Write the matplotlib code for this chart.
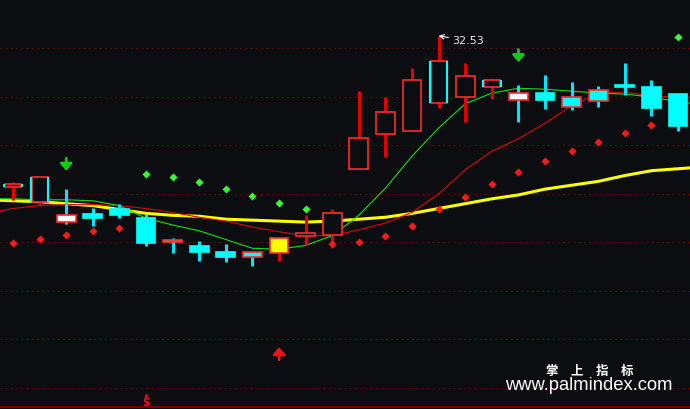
import numpy as np
import matplotlib
matplotlib.use('Agg')
import matplotlib.pyplot as plt

plt.rcParams['font.family'] = ['DejaVu Sans']

BG = '#0c0d10'

# --- candles (price) ---
opens  = [30.97, 30.82, 30.68, 30.69, 30.74, 30.65, 30.43, 30.36, 30.30, 30.30,
          30.29, 30.47, 30.48, 31.16, 31.52, 31.55, 31.84, 31.90, 32.00, 31.94,
          31.94, 31.90, 31.97, 32.02, 32.00, 31.93]
highs  = [31.02, 31.07, 30.95, 30.76, 30.80, 30.69, 30.45, 30.42, 30.38, 30.30,
          30.45, 30.68, 30.75, 31.96, 31.90, 32.20, 32.53, 32.25, 32.09, 32.02,
          32.13, 32.05, 32.01, 32.25, 32.08, 31.93]
lows   = [30.84, 30.79, 30.59, 30.57, 30.65, 30.36, 30.29, 30.21, 30.20, 30.16,
          30.21, 30.37, 30.41, 31.16, 31.28, 31.55, 31.79, 31.64, 31.88, 31.64,
          31.78, 31.77, 31.80, 31.92, 31.70, 31.55]
closes = [31.00, 31.07, 30.61, 30.65, 30.68, 30.39, 30.40, 30.30, 30.25, 30.25,
          30.45, 30.50, 30.70, 31.48, 31.75, 32.08, 32.27, 32.12, 32.08, 31.87,
          31.87, 31.80, 31.86, 32.00, 31.79, 31.60]

# moving averages, index -1 .. 26 (first and last are off-screen)
ma_long  = [30.84, 30.83, 30.82, 30.80, 30.78, 30.74, 30.70, 30.68, 30.67, 30.64,
            30.63, 30.62, 30.61, 30.62, 30.64, 30.66, 30.70, 30.75, 30.80, 30.85,
            30.89, 30.95, 30.99, 31.03, 31.09, 31.14, 31.16, 31.18]
ma_fast  = [30.85, 30.85, 30.84, 30.84, 30.83, 30.78, 30.65, 30.58, 30.52, 30.43,
            30.34, 30.33, 30.37, 30.47, 30.68, 30.96, 31.29, 31.58, 31.83, 31.94,
            31.99, 31.98, 31.96, 31.94, 31.93, 31.90, 31.85, 31.82]
ma_mid   = [30.70, 30.75, 30.78, 30.79, 30.79, 30.78, 30.75, 30.71, 30.66, 30.62,
            30.56, 30.51, 30.47, 30.47, 30.53, 30.60, 30.71, 30.90, 31.15, 31.34,
            31.47, 31.63, 31.81, 31.94, 31.95, 31.91, 31.90, 31.90]

# parabolic SAR
sar = [30.39, 30.44, 30.48, 30.52, 30.55, 31.11, 31.08, 31.02, 30.95, 30.88,
       30.81, 30.75, 30.38, 30.41, 30.47, 30.57, 30.74, 30.87, 31.00, 31.13,
       31.24, 31.34, 31.44, 31.53, 31.61, 32.52]

sell_idx = [2, 19]
sell_tip = [31.14, 32.26]
buy_idx = [10]
buy_tip = [29.32]
s_idx = 5
s_level = 28.75

grid_levels = [32.40, 31.90, 31.40, 30.90, 30.40, 29.90, 29.40, 28.90]
base_level = 28.70

red_edged = [6, 9, 21, 22]
cyan_sided = [0, 1, 16, 18]

fig = plt.figure(figsize=(6.9, 4.09), dpi=100)
fig.patch.set_facecolor(BG)
ax = fig.add_axes([0, 0, 1, 1])
ax.set_facecolor(BG)
ax.set_xlim(-0.489, 25.45)
ax.set_ylim(28.683, 32.90)
ax.axis('off')

for g in grid_levels:
    ax.axhline(g, color='#5c0a0a', lw=0.75, ls=(0, (2, 3)), zorder=1)
ax.axhline(base_level, color='#7a0000', lw=1.5, zorder=1)

xm = np.arange(-1, 27)
ax.plot(xm, ma_long, color='#ffff00', lw=2.2, zorder=2)
ax.plot(xm, ma_mid, color='#e00000', lw=0.8, zorder=2)
ax.plot(xm, ma_fast, color='#10e010', lw=0.8, zorder=2)

w = 0.71
for i in range(len(opens)):
    o, h, l, c = opens[i], highs[i], lows[i], closes[i]
    up = c >= o
    lo, hi = min(o, c), max(o, c)
    wick = '#e00000' if up else '#00e5ff'
    ax.vlines(i, l, h, color=wick, lw=2.2, zorder=3)
    if i in sell_idx:
        fc, ec = '#ffffff', '#ff2a2a'
    elif i in buy_idx:
        fc, ec = '#ffff00', '#ff2a2a'
    elif up:
        fc, ec = BG, '#ff2a2a'
    else:
        fc, ec = '#00ffff', '#ff2a2a' if i in red_edged else '#00ffff'
    bw = 0.6 if i in cyan_sided else w
    ax.bar(i, hi - lo, bottom=lo, width=bw, color=fc, edgecolor=ec, lw=1.2, zorder=4)
    if i in cyan_sided:
        ax.vlines([i - 0.33, i + 0.33], lo, hi, color='#00ffff', lw=1.5, zorder=4)

xs = np.arange(len(sar))
above = [s > c for s, c in zip(sar, closes)]
ax.plot(xs[above], np.array(sar)[above], 'D', color='#33ff33', ms=4.2, mec='none', zorder=5)
ax.plot(xs[~np.array(above)], np.array(sar)[~np.array(above)], 'D', color='#ff1a1a', ms=4.2, mec='none', zorder=5)

for i, t in zip(sell_idx, sell_tip):
    ax.annotate('', xy=(i, t), xytext=(0, 9), textcoords='offset points', xycoords='data',
                arrowprops=dict(arrowstyle='-|>,head_width=0.35,head_length=0.4', color='#10cc10', lw=2,
                                shrinkA=0, shrinkB=0), zorder=6)
for i, t in zip(buy_idx, buy_tip):
    ax.annotate('', xy=(i, t), xytext=(0, -9), textcoords='offset points', xycoords='data',
                arrowprops=dict(arrowstyle='-|>,head_width=0.35,head_length=0.4', color='#ff1010', lw=2,
                                shrinkA=0, shrinkB=0), zorder=6)

ax.text(s_idx, s_level, 'S', color='#ff1010', fontsize=7.5, fontweight='bold', ha='center', va='center')
ax.plot(s_idx, s_level + 0.075, '^', color='#ff1010', ms=3, mec='none')

hi_i = int(np.argmax(highs))
ax.annotate(f'{highs[hi_i]:.2f}', xy=(hi_i, highs[hi_i]), xytext=(10, -3.6), textcoords='offset points',
            color='#e4eaf2', fontsize=8, ha='left', va='center',
            arrowprops=dict(arrowstyle='->', color='white', lw=0.8, shrinkA=1, shrinkB=0), zorder=7)

fig.text(590 / 690, 1 - 371 / 409, '掌\u3000上\u3000指\u3000标', color='white', fontsize=9,
         fontweight='bold', family=['Noto Sans CJK SC', 'DejaVu Sans'], ha='center', va='center')
fig.text(588.5 / 690, 1 - 385 / 409, 'www.palmindex.com', color='white', fontsize=13.2,
         family=['Liberation Sans'], ha='center', va='center')

fig.savefig('out.png', dpi=100, facecolor=BG)
